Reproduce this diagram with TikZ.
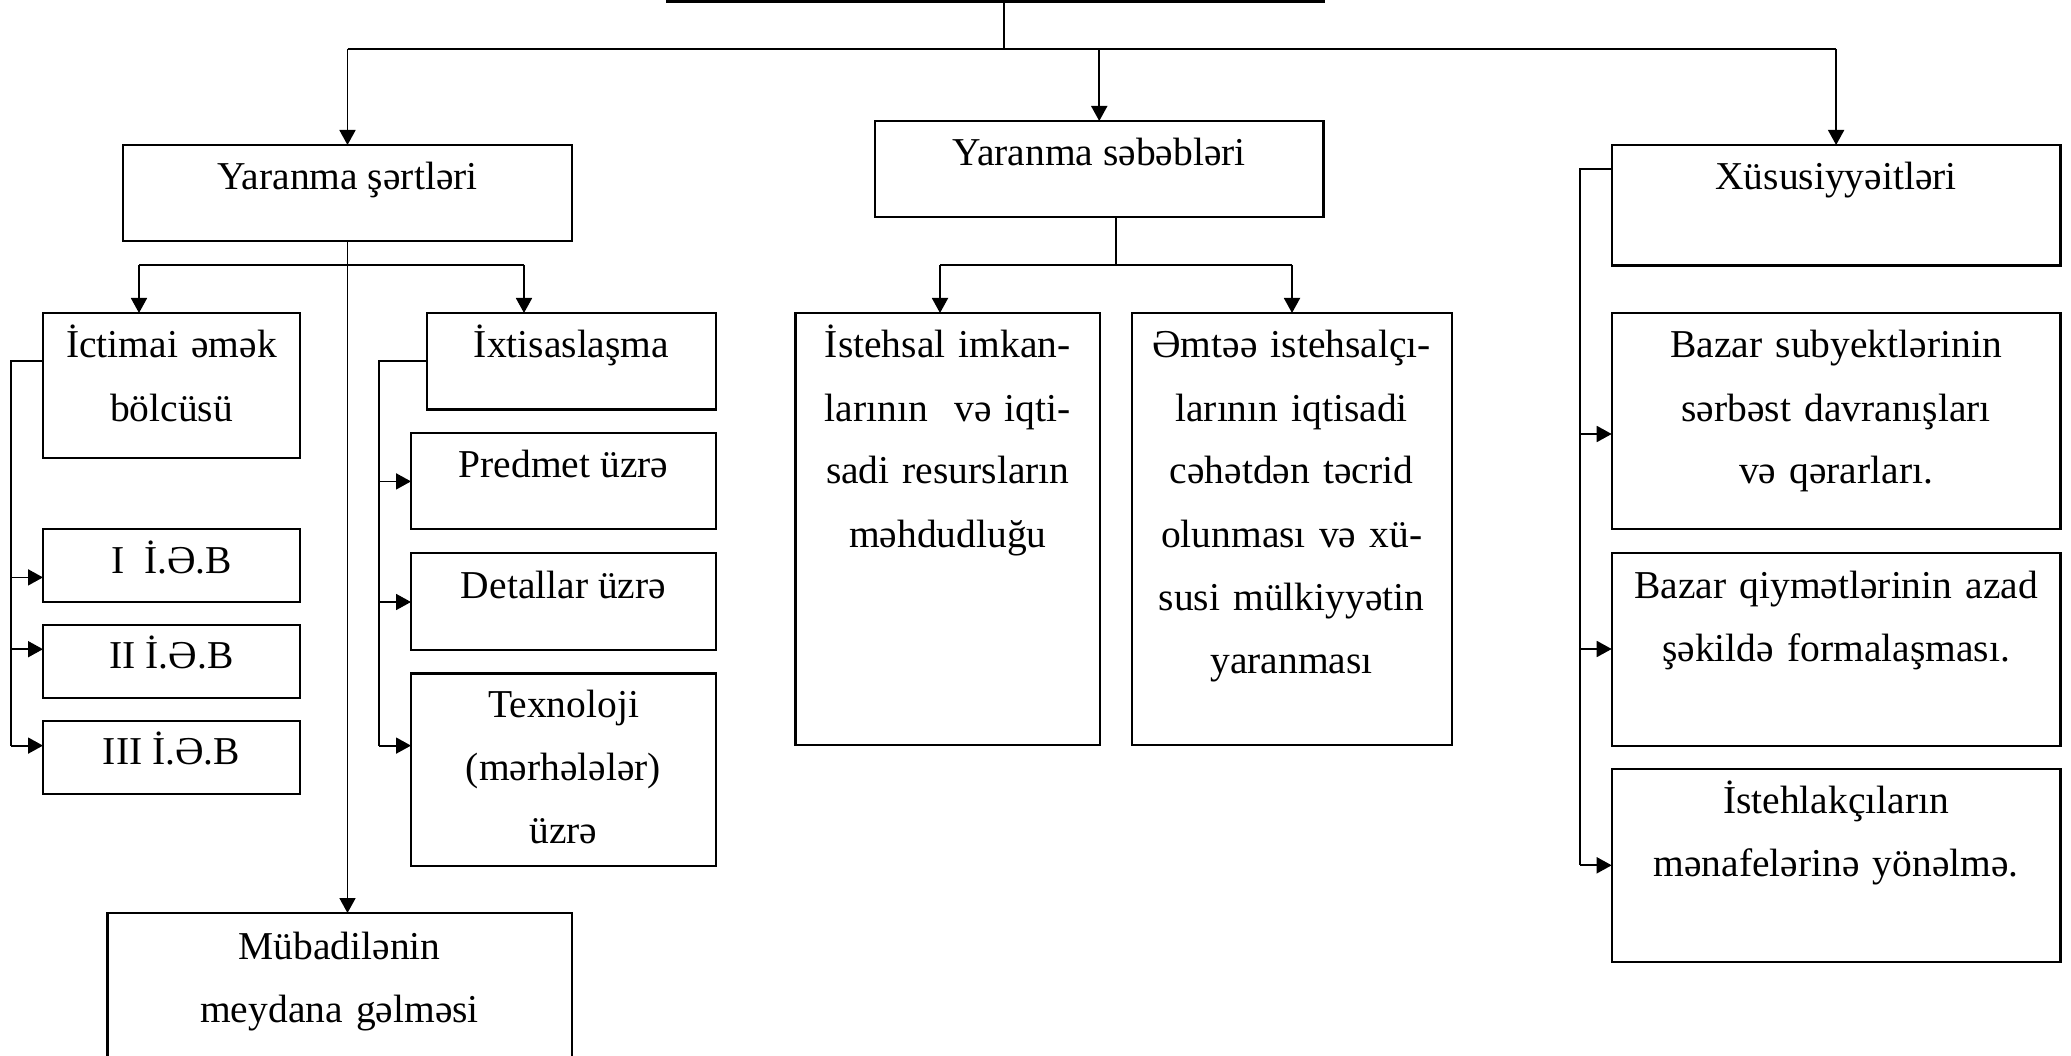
\documentclass[tikz,border=0pt]{standalone}
\usepackage{fontspec}
\setmainfont{Liberation Serif}
\usetikzlibrary{arrows.meta}
\tikzset{
  box/.style={draw, rectangle, line width=2.2pt, inner sep=0pt, outer sep=0pt},
  lbl/.style={font=\fontsize{39.5}{63}\selectfont, inner sep=0pt, outer sep=0pt, align=center, anchor=base},
  mlbl/.style={lbl, text width=440pt},
  conn/.style={line width=1.8pt},
  arr/.style={line width=1.8pt, -{Triangle[length=15pt,width=16pt]}}
}
\begin{document}
\begin{tikzpicture}[x=1pt,y=-1pt]
\useasboundingbox (0,0) rectangle (2071,1056);
\fill[white] (0,0) rectangle (2071,1056);
\clip (0,0) rectangle (2071,1056);

% boxes
\node[box, minimum width=656.5pt, minimum height=101.5pt] (top) at (995.75,-49.25) {};
\node[box, minimum width=449pt, minimum height=96.4pt] (sartler) at (347.5,193.2) {};
\node[box, minimum width=448.5pt, minimum height=96.3pt] (sebebler) at (1099.25,169.15) {};
\node[box, minimum width=448.8pt, minimum height=120.5pt] (xus) at (1836.1,205.25) {};
\node[box, minimum width=257pt, minimum height=144.7pt] (ictimai) at (171.5,385.35) {};
\node[box, minimum width=289pt, minimum height=96.5pt] (ixtis) at (571.5,361.25) {};
\node[box, minimum width=305pt, minimum height=96.4pt] (predmet) at (563.5,481.1) {};
\node[box, minimum width=305pt, minimum height=96.7pt] (detallar) at (563.5,601.55) {};
\node[box, minimum width=305pt, minimum height=192.5pt] (texno) at (563.5,769.75) {};
\node[box, minimum width=257pt, minimum height=72.8pt] (ieb1) at (171.5,565.6) {};
\node[box, minimum width=257pt, minimum height=72.8pt] (ieb2) at (171.5,661.7) {};
\node[box, minimum width=257pt, minimum height=72.5pt] (ieb3) at (171.5,757.55) {};
\node[box, minimum width=464.3pt, minimum height=149pt] (mubad) at (339.55,987.5) {};
\node[box, minimum width=304.5pt, minimum height=432.3pt] (istehsal) at (947.75,529.15) {};
\node[box, minimum width=320pt, minimum height=432.3pt] (emtee) at (1291.6,529.15) {};
\node[box, minimum width=448.8pt, minimum height=216.3pt] (bazar1) at (1836.1,421.15) {};
\node[box, minimum width=448.8pt, minimum height=192.6pt] (bazar2) at (1836.1,649.3) {};
\node[box, minimum width=448.8pt, minimum height=192.4pt] (isteh) at (1836.1,865.4) {};

% texts
\node[lbl] (t-sartler) at (347.5,189.4) {Yaranma şərtləri};
\node[lbl] (t-sebebler) at (1099.25,166) {Yaranma səbəbləri};
\node[lbl] (t-xus) at (1836.1,189.4) {Xüsusiyyəitləri};
\node[mlbl] (t-ictimai) at (171.5,358) {İctimai əmək\\bölcüsü};
\node[lbl] (t-ixtis) at (571.5,358) {İxtisaslaşma};
\node[lbl] (t-predmet) at (563.5,477) {Predmet üzrə};
\node[lbl] (t-detallar) at (563.5,598) {Detallar üzrə};
\node[mlbl] (t-texno) at (563.5,717.6) {Texnoloji\\(mərhələlər)\\üzrə};
\node[lbl] (t-ieb1) at (171.5,573) {I\ \ İ.Ə.B};
\node[lbl] (t-ieb2) at (171.5,668.7) {II İ.Ə.B};
\node[lbl] (t-ieb3) at (171.5,764.7) {III İ.Ə.B};
\node[mlbl] (t-mubad) at (339.55,959.5) {Mübadilənin\\meydana gəlməsi};
\node[mlbl] (t-istehsal) at (947.75,358) {İstehsal imkan-\\larının\ \ və iqti-\\sadi resursların\\məhdudluğu};
\node[mlbl] (t-emtee) at (1291.6,358) {Əmtəə istehsalçı-\\larının iqtisadi\\cəhətdən təcrid\\olunması və xü-\\susi mülkiyyətin\\yaranması};
\node[mlbl] (t-bazar1) at (1836.1,358) {Bazar subyektlərinin\\sərbəst davranışları\\və qərarları.};
\node[mlbl] (t-bazar2) at (1836.1,598) {Bazar qiymətlərinin azad\\şəkildə formalaşması.};
\node[mlbl] (t-isteh) at (1836.1,813) {İstehlakçıların\\mənafelərinə yönəlmə.};

% junction coordinates
\coordinate (j0) at (1003.6,49);
\coordinate (h1L) at (139,265);
\coordinate (h1R) at (524,265);
\coordinate (s0) at (1115.6,265);
\coordinate (h2L) at (940,265);
\coordinate (h2R) at (1292,265);
\coordinate (b1) at (11.3,361.3);
\coordinate (a1) at (11.3,577.4);
\coordinate (a2) at (11.3,649.2);
\coordinate (a3) at (11.3,745.6);
\coordinate (b2) at (379,361.3);
\coordinate (c1) at (379,481.4);
\coordinate (c2) at (379,602);
\coordinate (c3) at (379,745.6);
\coordinate (b3) at (1579.8,169);
\coordinate (d1) at (1579.8,434);
\coordinate (d2) at (1579.8,649);
\coordinate (d3) at (1579.8,865.3);

% top level
\draw[conn] (top.south -| j0) -- (j0);
\draw[conn] (sartler.north |- j0) -- (xus.north |- j0);
\draw[arr] (sartler.north |- j0) -- (sartler.north);
\draw[arr] (sebebler.north |- j0) -- (sebebler.north);
\draw[arr] (xus.north |- j0) -- (xus.north);

% Yaranma şərtləri
\draw[arr] (sartler.south) -- (sartler.south |- mubad.north);
\draw[conn] (h1L) -- (h1R);
\draw[arr] (h1L) -- (h1L |- ictimai.north);
\draw[arr] (h1R) -- (h1R |- ixtis.north);

\draw[conn] (b1 -| ictimai.west) -- (b1) -- (a3);
\draw[arr] (a1) -- (a1 -| ieb1.west);
\draw[arr] (a2) -- (a2 -| ieb2.west);
\draw[arr] (a3) -- (a3 -| ieb3.west);

\draw[conn] (b2 -| ixtis.west) -- (b2) -- (c3);
\draw[arr] (c1) -- (c1 -| predmet.west);
\draw[arr] (c2) -- (c2 -| detallar.west);
\draw[arr] (c3) -- (c3 -| texno.west);

% Yaranma səbəbləri
\draw[conn] (s0 |- sebebler.south) -- (s0);
\draw[conn] (h2L) -- (h2R);
\draw[arr] (h2L) -- (h2L |- istehsal.north);
\draw[arr] (h2R) -- (h2R |- emtee.north);

% Xüsusiyyəitləri
\draw[conn] (b3 -| xus.west) -- (b3) -- (d3);
\draw[arr] (d1) -- (d1 -| bazar1.west);
\draw[arr] (d2) -- (d2 -| bazar2.west);
\draw[arr] (d3) -- (d3 -| isteh.west);
\end{tikzpicture}
\end{document}
